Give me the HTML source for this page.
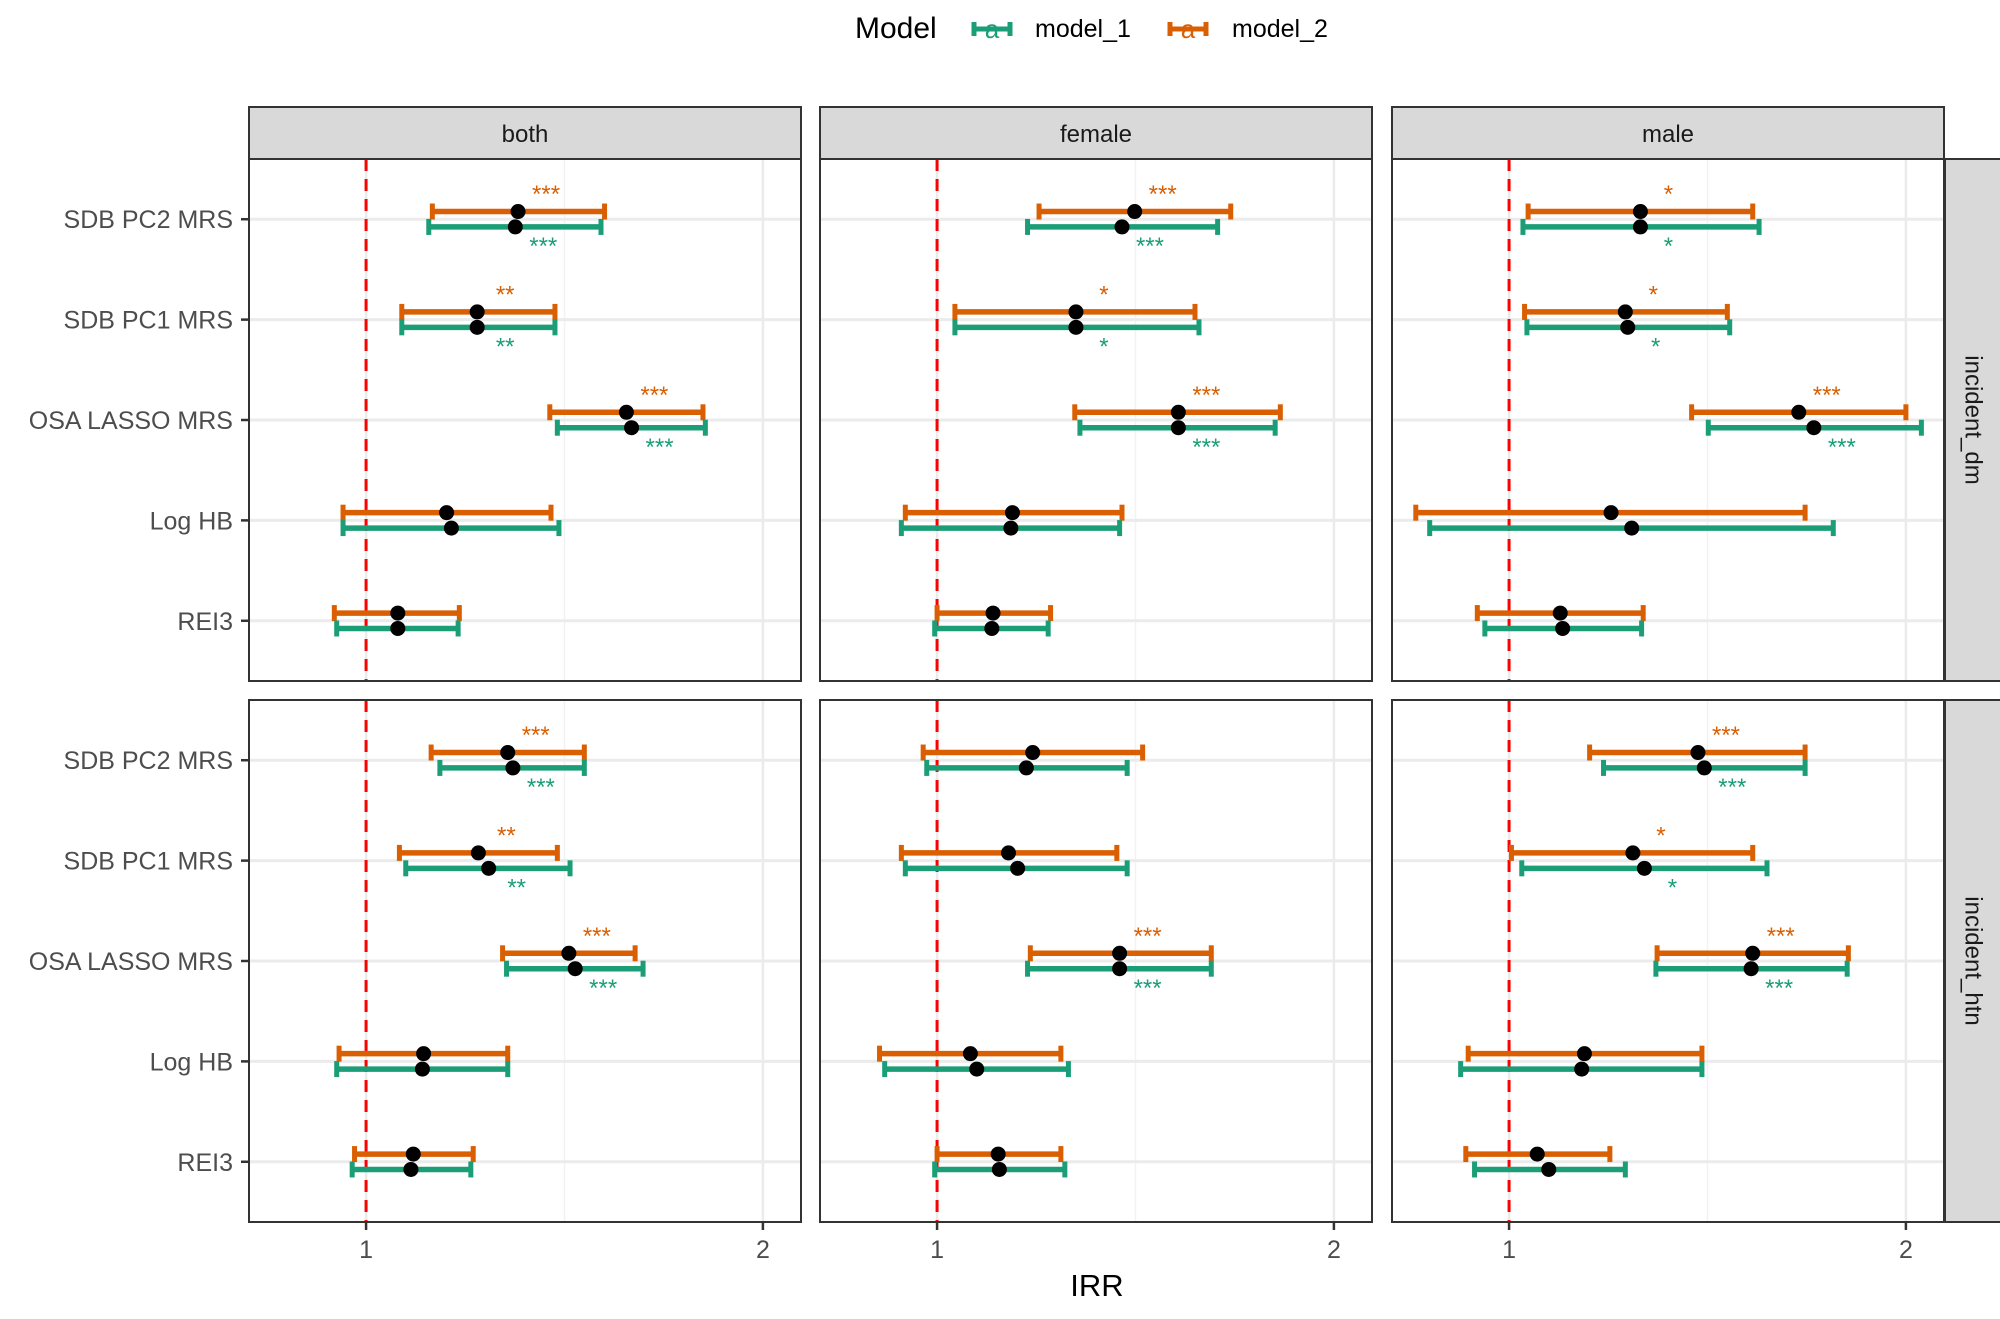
<!DOCTYPE html>
<html><head><meta charset="utf-8"><style>
body{margin:0;background:#fff;}
svg text{font-family:"Liberation Sans",Arial,sans-serif;}
</style></head><body>
<svg id="c" width="2000" height="1314" viewBox="0 0 2000 1314" xmlns="http://www.w3.org/2000/svg"></svg>
<script>
const categories = ["SDB PC2 MRS","SDB PC1 MRS","OSA LASSO MRS","Log HB","REI3"];
const sexes = ["both","female","male"];
const outcomes = ["incident_dm","incident_htn"];
const xTicks = [1,2];
// [lo, est, hi] per outcome -> sex -> category
const m1 = {
 incident_dm:{
  both:[[1.158,1.376,1.592],[1.09,1.28,1.476],[1.482,1.669,1.855],[0.942,1.215,1.486],[0.926,1.08,1.232]],
  female:[[1.228,1.466,1.707],[1.045,1.35,1.66],[1.36,1.608,1.852],[0.91,1.186,1.46],[0.994,1.138,1.28]],
  male:[[1.035,1.331,1.63],[1.045,1.299,1.556],[1.502,1.768,2.039],[0.8,1.309,1.817],[0.939,1.135,1.334]]},
 incident_htn:{
  both:[[1.186,1.37,1.55],[1.1,1.309,1.514],[1.354,1.527,1.698],[0.926,1.142,1.357],[0.965,1.113,1.264]],
  female:[[0.974,1.225,1.479],[0.92,1.203,1.479],[1.228,1.46,1.691],[0.868,1.1,1.331],[0.994,1.157,1.322]],
  male:[[1.238,1.492,1.746],[1.032,1.341,1.65],[1.37,1.61,1.852],[0.878,1.183,1.486],[0.913,1.1,1.293]]}
};
const m2 = {
 incident_dm:{
  both:[[1.167,1.383,1.601],[1.09,1.28,1.476],[1.463,1.656,1.849],[0.942,1.203,1.466],[0.92,1.08,1.235]],
  female:[[1.257,1.498,1.74],[1.045,1.35,1.65],[1.347,1.608,1.865],[0.92,1.19,1.466],[1.0,1.141,1.286]],
  male:[[1.048,1.331,1.614],[1.039,1.293,1.55],[1.46,1.73,2.0],[0.765,1.257,1.746],[0.92,1.129,1.338]]},
 incident_htn:{
  both:[[1.164,1.357,1.55],[1.084,1.283,1.482],[1.344,1.511,1.678],[0.932,1.145,1.357],[0.971,1.119,1.27]],
  female:[[0.965,1.241,1.518],[0.91,1.18,1.453],[1.235,1.46,1.691],[0.855,1.084,1.312],[1.0,1.154,1.312]],
  male:[[1.203,1.476,1.746],[1.006,1.312,1.614],[1.373,1.614,1.855],[0.897,1.19,1.486],[0.891,1.071,1.254]]}
};
const stars = {
 incident_dm:{both:["***","**","***","",""],female:["***","*","***","",""],male:["*","*","***","",""]},
 incident_htn:{both:["***","**","***","",""],female:["","","***","",""],male:["***","*","***","",""]}
};
const ORANGE="#D95F02", GREEN="#1B9E77";
const svg=document.getElementById('c');
const NS="http://www.w3.org/2000/svg";
function mk(tag,attrs,parent){const e=document.createElementNS(NS,tag);for(const k in attrs)e.setAttribute(k,attrs[k]);(parent||svg).appendChild(e);return e;}
const colX=[249,820,1392], panelW=552;
const rowY=[159,700], panelH=522;
const xmin=0.705, xmax=2.096;
function xs(ci,v){return colX[ci]+(v-xmin)/(xmax-xmin)*panelW;}
function ys(ri,k){const step=panelH/5.2;return rowY[ri]+0.6*step+k*step;}

// legend
let t=mk('text',{x:855,y:38,'font-size':30,fill:'#000'});t.textContent="Model";

[[GREEN,"model_1",972,1035],[ORANGE,"model_2",1168,1232]].forEach(([col,lab,kx,tx])=>{
 const g=mk('g',{});
 
 
 mk('line',{x1:kx,y1:29,x2:kx+40,y2:29,stroke:col,'stroke-width':5},g);
 mk('line',{x1:kx+2,y1:22,x2:kx+2,y2:36,stroke:col,'stroke-width':5},g);
 mk('line',{x1:kx+38,y1:22,x2:kx+38,y2:36,stroke:col,'stroke-width':5},g);
 const a=mk('text',{x:kx+20,y:38,'font-size':26,fill:col,'text-anchor':'middle'},g);a.textContent="a";
 const l=mk('text',{x:tx,y:37,'font-size':25,fill:'#000'},g);l.textContent=lab;
});

// strips top
sexes.forEach((s,ci)=>{
 const r=mk('rect',{x:colX[ci],y:107,width:panelW,height:52,fill:'#D9D9D9',stroke:'#333','stroke-width':2});
 
 const tx=mk('text',{x:colX[ci]+panelW/2,y:142,'font-size':24,fill:'#1A1A1A','text-anchor':'middle'});tx.textContent=s;
 
});
outcomes.forEach((o,ri)=>{
 const r=mk('rect',{x:1945,y:rowY[ri],width:56,height:panelH,fill:'#D9D9D9',stroke:'#333','stroke-width':2});
 
 const cy=rowY[ri]+panelH/2;
 const tx=mk('text',{x:1973,y:cy,'font-size':24,fill:'#1A1A1A','text-anchor':'middle','dominant-baseline':'central',transform:`rotate(90 1973 ${cy})`});tx.textContent=o;
 
});

outcomes.forEach((o,ri)=>{
 sexes.forEach((s,ci)=>{
  const g=mk('g',{});
  
  
  mk('rect',{x:colX[ci],y:rowY[ri],width:panelW,height:panelH,fill:'#fff'},g);
  // grid
  [1.5].forEach(v=>mk('line',{x1:xs(ci,v),x2:xs(ci,v),y1:rowY[ri],y2:rowY[ri]+panelH,stroke:'#F2F2F2','stroke-width':1.5},g));
  xTicks.forEach(v=>mk('line',{x1:xs(ci,v),x2:xs(ci,v),y1:rowY[ri],y2:rowY[ri]+panelH,stroke:'#EBEBEB','stroke-width':2.5},g));
  categories.forEach((c,k)=>mk('line',{x1:colX[ci],x2:colX[ci]+panelW,y1:ys(ri,k),y2:ys(ri,k),stroke:'#EBEBEB','stroke-width':3},g));
  // ref line
  const rl=mk('line',{x1:xs(ci,1),x2:xs(ci,1),y1:rowY[ri],y2:rowY[ri]+panelH,stroke:'#FF0000','stroke-width':3,'stroke-dasharray':'12 8'},g);
  
  categories.forEach((c,k)=>{
   [[m2,ORANGE,-7.7,'model_2'],[m1,GREEN,7.7,'model_1']].forEach(([d,col,off,nm])=>{
    const v=d[o][s][k];const y=ys(ri,k)+off;
    const eg=mk('g',{},g);
    
    
    mk('line',{x1:xs(ci,v[0]),x2:xs(ci,v[2]),y1:y,y2:y,stroke:col,'stroke-width':5.5},eg);
    mk('line',{x1:xs(ci,v[0]),x2:xs(ci,v[0]),y1:y-8,y2:y+8,stroke:col,'stroke-width':5},eg);
    mk('line',{x1:xs(ci,v[2]),x2:xs(ci,v[2]),y1:y-8,y2:y+8,stroke:col,'stroke-width':5},eg);
    const p=mk('circle',{cx:xs(ci,v[1]),cy:y,r:7.5,fill:'#000'},eg);
    
   });
   const st=stars[o][s][k];
   if(st){
    const a=mk('text',{x:xs(ci,m2[o][s][k][1])+28,y:ys(ri,k)-17,'font-size':24,fill:ORANGE,'text-anchor':'middle'},g);a.textContent=st;
    
    const b=mk('text',{x:xs(ci,m1[o][s][k][1])+28,y:ys(ri,k)+35,'font-size':24,fill:GREEN,'text-anchor':'middle'},g);b.textContent=st;
    
   }
  });
  mk('rect',{x:colX[ci],y:rowY[ri],width:panelW,height:panelH,fill:'none',stroke:'#333','stroke-width':2},g);
 });
 // y axis labels
 categories.forEach((c,k)=>{
  mk('line',{x1:241,x2:249,y1:ys(ri,k),y2:ys(ri,k),stroke:'#333','stroke-width':2.5});
  const tx=mk('text',{x:233,y:ys(ri,k)+9,'font-size':25,fill:'#4D4D4D','text-anchor':'end'});tx.textContent=c;
  
 });
});
// x ticks
sexes.forEach((s,ci)=>{
 xTicks.forEach(v=>{
  mk('line',{x1:xs(ci,v),x2:xs(ci,v),y1:1222,y2:1230,stroke:'#333','stroke-width':2.5});
  const tx=mk('text',{x:xs(ci,v),y:1258,'font-size':25,fill:'#4D4D4D','text-anchor':'middle'});tx.textContent=v;
  
 });
});
const xt=mk('text',{x:1097,y:1296,'font-size':31,fill:'#000','text-anchor':'middle'});xt.textContent="IRR";

</script>
</body></html>
